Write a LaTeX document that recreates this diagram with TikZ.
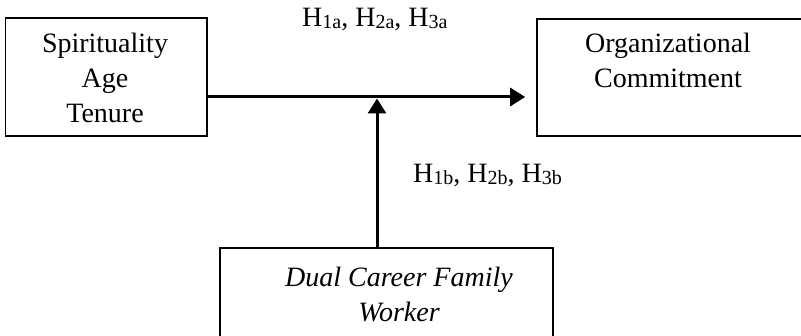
\documentclass[tikz,border=0pt]{standalone}
\usepackage{fontspec}
\setmainfont{Liberation Serif}
\usetikzlibrary{arrows.meta}
\newcommand{\hsub}[1]{\raisebox{-1.5pt}{\fontsize{20}{22}\selectfont #1}}
\begin{document}
\begin{tikzpicture}[x=1pt,y=1pt,
  box/.style={draw, line width=1.6pt, inner sep=0pt},
  txt/.style={inner sep=0pt, align=center, font=\fontsize{28}{35}\selectfont},
  hyp/.style={inner sep=0pt, anchor=base west, font=\fontsize{28}{34}\selectfont},
  conn/.style={line width=3pt, -{Triangle[length=15pt,width=18pt]}}]
\useasboundingbox (0,0) rectangle (801,-336);
\clip (0,0) rectangle (801,-336);
% boxes
\node[box, minimum width=201.5pt, minimum height=118pt] (L) at (106.25,-77) {};
\node[box, minimum width=283pt, minimum height=117pt] (R) at (678.5,-77.5) {};
\node[box, minimum width=333pt, minimum height=102pt] (B) at (386.5,-299) {};
% texts
\node[txt, anchor=north] (Lt) at (105,-33) {Spirituality\\Age\\Tenure};
\node[txt, anchor=north] (Rt) at (668,-33) {Organizational\\Commitment};
\node[txt, anchor=north, font=\fontsize{28}{35}\selectfont\itshape] (Bt) at (399,-267) {Dual Career Family\\Worker};
\node[hyp] (Ha) at (302,-27) {H\hsub{1a}, H\hsub{2a}, H\hsub{3a}};
\node[hyp] (Hb) at (413,-183) {H\hsub{1b}, H\hsub{2b}, H\hsub{3b}};
% connectors
\coordinate (J) at (377,-98.5);
\draw[conn, shorten >=11pt] ([yshift=-20pt]L.east) -- ([yshift=-19.5pt]R.west);
\draw[conn] ([xshift=-9.5pt]B.north) -- (J);
\end{tikzpicture}
\end{document}
